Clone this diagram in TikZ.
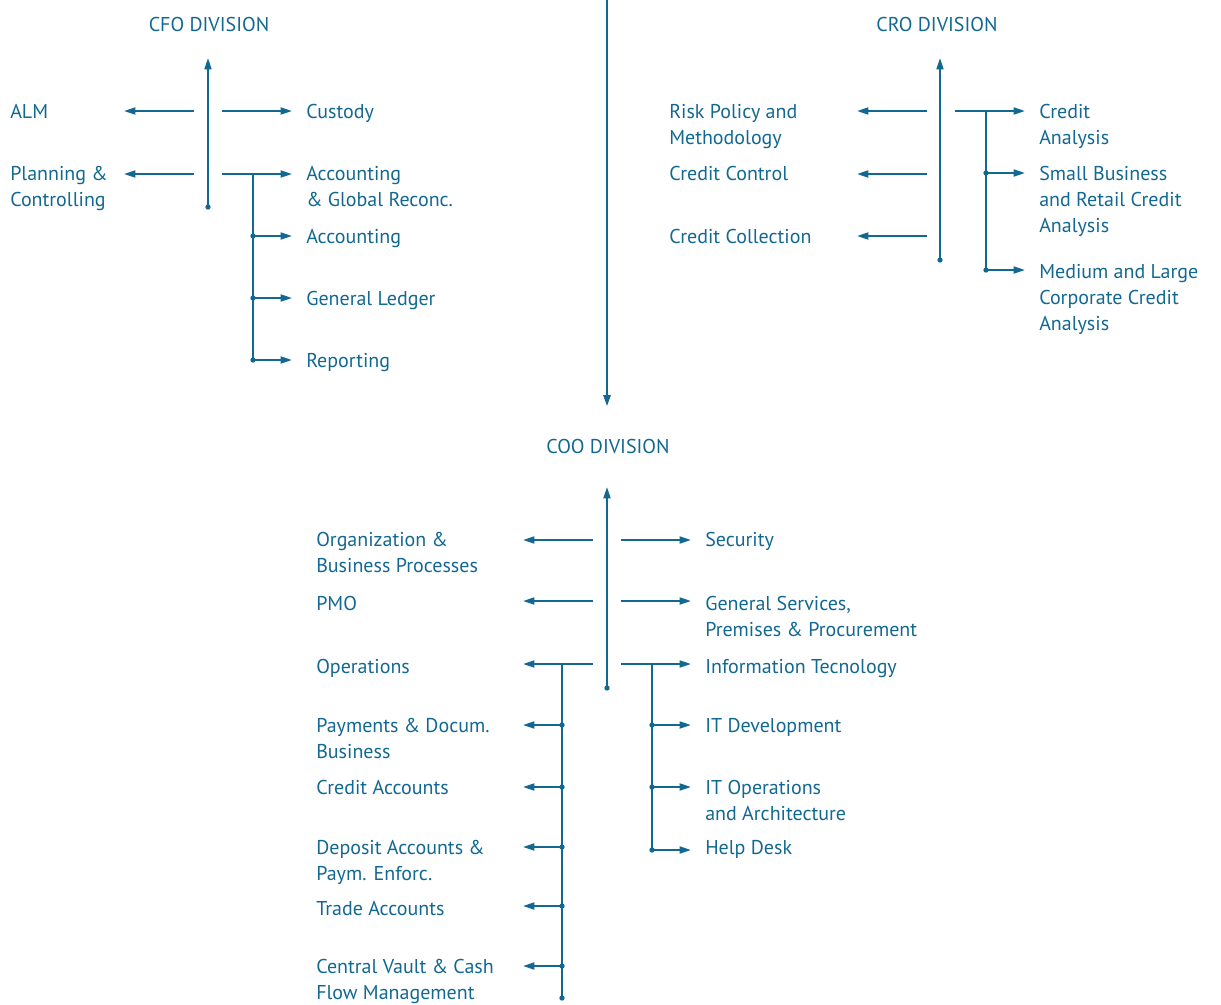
\documentclass[tikz,border=0pt]{standalone}
\usepackage{fontspec}
\setmainfont{PT Sans}
\usepackage{xcolor}
\usepackage{tikz}
\usetikzlibrary{arrows.meta}

\definecolor{orgblue}{RGB}{18,104,145}
\newcommand{\lblfont}{\fontsize{15}{19.5}\selectfont}

\begin{document}
\begin{tikzpicture}[
    x=0.75pt, y=-0.75pt,
    line/.style={draw=orgblue, line width=1.45pt},
    arr/.style={line, -{Triangle[length=8.5pt, width=5.2pt]}},
    lbl/.style={text=orgblue, font=\lblfont, align=left, inner sep=0pt, anchor=north west},
    head/.style={text=orgblue, font=\lblfont, inner sep=0pt},
    gap/.style={shorten >=10.5pt}
]
\useasboundingbox (0,0) rectangle (1221,1004);

% main line down to the COO division
\coordinate (top) at (607,0);
\node[head] (coo) at (608,446) {COO DIVISION};
\draw[arr, line width=1.9pt, shorten >=24pt] (top) -- (top |- coo.north);

% CFO division
\node[head] (cfo) at (209,24) {CFO DIVISION};
\coordinate (cfo-top) at (208,58);
\coordinate (cfo-end) at (208,207);
\draw[arr] (cfo-end) -- (cfo-top);
\fill[orgblue] (cfo-end) circle (2pt);

\node[lbl] (alm) at (10,104) {ALM};
\node[lbl] (plan) at (10,166) {Planning \&\\Controlling};
\node[lbl] (custody) at (306,104) {Custody};
\node[lbl] (accglob) at (306,166) {Accounting\\\& Global Reconc.};
\node[lbl] (acc) at (306,229) {Accounting};
\node[lbl] (ledger) at (306,291) {General Ledger};
\node[lbl] (report) at (306,353) {Reporting};

\foreach \i/\y in {1/111, 2/174} {
  \coordinate (cfo-l\i) at (194,\y);
  \coordinate (cfo-r\i) at (222,\y);
  \draw[arr] (cfo-l\i) -- ++(-70,0);
}
\draw[arr, gap] (cfo-r1) -- (cfo-r1 -| custody.west);
\draw[arr, gap] (cfo-r2) -- (cfo-r2 -| accglob.west);

\coordinate (cfo-sub) at (253,174);
\foreach \y/\n in {236/acc, 298/ledger, 360/report} {
  \coordinate (cfo-\n) at (253,\y);
  \fill[orgblue] (cfo-\n) circle (2pt);
  \draw[arr, gap] (cfo-\n) -- (cfo-\n -| \n.west);
}
\draw[line] (cfo-sub) -- (cfo-report);

% CRO division
\node[head] (cro) at (937,24) {CRO DIVISION};
\coordinate (cro-top) at (940,58);
\coordinate (cro-end) at (940,260);
\draw[arr] (cro-end) -- (cro-top);
\fill[orgblue] (cro-end) circle (2pt);

\node[lbl] (risk) at (669,104) {Risk Policy and\\Methodology};
\node[lbl] (credctrl) at (669,166) {Credit Control};
\node[lbl] (credcoll) at (669,229) {Credit Collection};
\node[lbl] (credit) at (1039,104) {Credit\\Analysis};
\node[lbl] (small) at (1039,166) {Small Business\\and Retail Credit\\Analysis};
\node[lbl] (medium) at (1039,264) {Medium and Large\\Corporate Credit\\Analysis};

\foreach \i/\y in {1/111, 2/174, 3/236} {
  \coordinate (cro-l\i) at (927,\y);
  \draw[arr] (cro-l\i) -- ++(-70,0);
}
\coordinate (cro-r1) at (955,111);
\draw[arr, gap] (cro-r1) -- (cro-r1 -| credit.west);

\coordinate (cro-sub) at (986,111);
\foreach \y/\n in {173/small, 270/medium} {
  \coordinate (cro-\n) at (986,\y);
  \fill[orgblue] (cro-\n) circle (2pt);
  \draw[arr, gap] (cro-\n) -- (cro-\n -| \n.west);
}
\draw[line] (cro-sub) -- (cro-medium);

% COO division
\coordinate (coo-top) at (607,487);
\coordinate (coo-end) at (607,688);
\draw[arr] (coo-end) -- (coo-top);
\fill[orgblue] (coo-end) circle (2pt);

\node[lbl] (org) at (316,532) {Organization \&\\Business Processes};
\node[lbl] (pmo) at (316,596) {PMO};
\node[lbl] (ops) at (316,659) {Operations};
\node[lbl] (security) at (705,532) {Security};
\node[lbl] (gensrv) at (705,596) {General Services,\\Premises \& Procurement};
\node[lbl] (infotec) at (705,659) {Information Tecnology};

\node[lbl] (pay) at (316,718) {Payments \& Docum.\\Business};
\node[lbl] (credacc) at (316,780) {Credit Accounts};
\node[lbl] (depacc) at (316,840) {Deposit Accounts \&\\Paym. Enforc.};
\node[lbl] (trade) at (316,901) {Trade Accounts};
\node[lbl] (vault) at (316,959) {Central Vault \& Cash\\Flow Management};
\node[lbl] (itdev) at (705,718) {IT Development};
\node[lbl] (itops) at (705,780) {IT Operations\\and Architecture};
\node[lbl] (help) at (705,840) {Help Desk};

\foreach \i/\y in {1/540, 2/601, 3/664} {
  \coordinate (coo-l\i) at (593,\y);
  \coordinate (coo-r\i) at (621,\y);
  \draw[arr] (coo-l\i) -- ++(-70,0);
}
\draw[arr, gap] (coo-r1) -- (coo-r1 -| security.west);
\draw[arr, gap] (coo-r2) -- (coo-r2 -| gensrv.west);
\draw[arr, gap] (coo-r3) -- (coo-r3 -| infotec.west);

% operations subtree
\coordinate (ops-sub) at (562,664);
\coordinate (ops-end) at (562,998);
\foreach \y/\n in {725/pay, 787/credacc, 847/depacc, 906/trade, 966/vault} {
  \coordinate (ops-\n) at (562,\y);
  \fill[orgblue] (ops-\n) circle (2pt);
  \draw[arr] (ops-\n) -- ++(-39,0);
}
\draw[line] (ops-sub) -- (ops-end);
\fill[orgblue] (ops-end) circle (2pt);

% information technology subtree
\coordinate (it-sub) at (652,664);
\foreach \y/\n in {725/itdev, 787/itops, 850/help} {
  \coordinate (it-\n) at (652,\y);
  \fill[orgblue] (it-\n) circle (2pt);
  \draw[arr, gap] (it-\n) -- (it-\n -| \n.west);
}
\draw[line] (it-sub) -- (it-help);

\end{tikzpicture}
\end{document}
